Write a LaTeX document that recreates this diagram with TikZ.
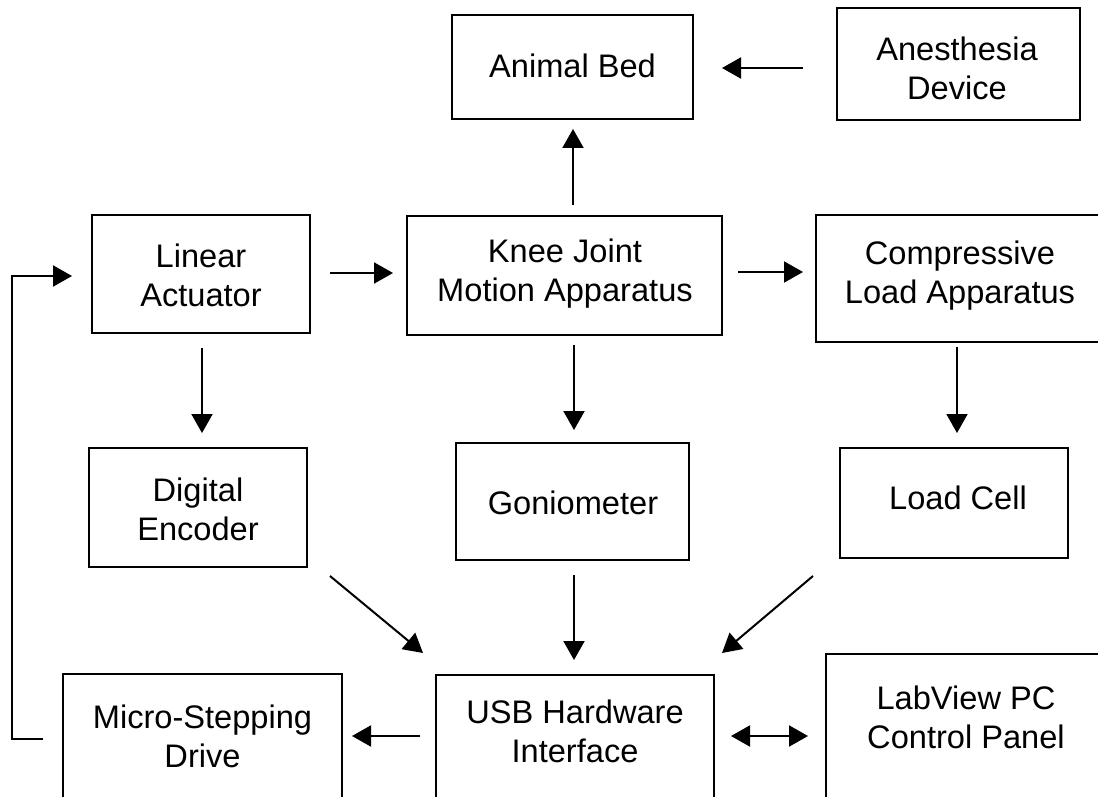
\documentclass[tikz,border=0pt]{standalone}
\usepackage{fontspec}
\setmainfont{Liberation Sans}
\usetikzlibrary{arrows.meta,calc}

\tikzset{
  box/.style={draw=black, line width=2.4pt, rectangle, inner sep=0pt, outer sep=0pt},
  txt/.style={align=center, inner sep=0pt, font=\fontsize{32.6}{39}\selectfont},
  arr/.style={draw=black, line width=2pt, -{Triangle[length=19pt,width=21pt]}},
  darr/.style={draw=black, line width=2pt, {Triangle[length=19pt,width=21pt]}-{Triangle[length=19pt,width=21pt]}},
  feed/.style={draw=black, line width=2pt, -{Triangle[length=19pt,width=21pt]}},
}

\begin{document}
\begin{tikzpicture}[x=1pt, y=-1pt]
\useasboundingbox (0,0) rectangle (1098,797);
\clip (0,0) rectangle (1098,797);
\fill[white] (0,0) rectangle (1098,797);

% boxes (frames)
\node[box, minimum width=241, minimum height=104] (anim)  at (572.5,67)  {};
\node[box, minimum width=243, minimum height=112] (anes)  at (958.5,64)  {};
\node[box, minimum width=218, minimum height=118] (lin)   at (201,274)   {};
\node[box, minimum width=315, minimum height=119] (knee)  at (564.5,275.5) {};
\node[box, minimum width=288, minimum height=127] (comp)  at (960,278.5) {};
\node[box, minimum width=218, minimum height=119] (enc)   at (198,507.5) {};
\node[box, minimum width=233, minimum height=117] (gonio) at (572.5,501.5) {};
\node[box, minimum width=228, minimum height=110] (cell)  at (954,503)   {};
\node[box, minimum width=279, minimum height=156] (micro) at (202.5,752) {};
\node[box, minimum width=278, minimum height=155] (usb)   at (575,752.5) {};
\node[box, minimum width=280, minimum height=176] (lab)   at (966,742)   {};

% labels
\node[txt] (animT)  at (572.5,66)  {Animal Bed};
\node[txt] (anesT)  at (957,68)    {Anesthesia\\Device};
\node[txt] (linT)   at (201,275)   {Linear\\Actuator};
\node[txt] (kneeT)  at (565,274)   {Knee Joint\\Motion Apparatus};
\node[txt] (compT)  at (960,276)   {Compressive\\Load Apparatus};
\node[txt] (encT)   at (198,509)   {Digital\\Encoder};
\node[txt] (gonioT) at (573,503)   {Goniometer};
\node[txt] (cellT)  at (958,498)   {Load Cell};
\node[txt] (microT) at (202.5,736) {Micro-Stepping\\Drive};
\node[txt] (usbT)   at (575,731)   {USB Hardware\\Interface};
\node[txt] (labT)   at (966,717)   {LabView PC\\Control Panel};

% connectors
\draw[arr] ($(anes.west)+(-34,4)$) -- ($(anim.east)+(29,1)$);
\draw[arr] ($(knee.north)+(8.5,-11)$) -- ($(anim.south)+(0.5,10)$);
\draw[arr] ($(lin.east)+(20,-1)$) -- ($(knee.west)+(-14,-2.5)$);
\draw[arr] ($(knee.east)+(16,-3.5)$) -- ($(comp.west)+(-13,-6.5)$);
\draw[arr] ($(lin.south)+(1,15)$) -- ($(enc.north)+(4,-15)$);
\draw[arr] ($(knee.south)+(9.5,10)$) -- ($(gonio.north)+(1.5,-13)$);
\draw[arr] ($(comp.south)+(-3,5)$) -- ($(cell.north)+(3,-15)$);
\draw[arr] ($(enc.south east)+(23,9)$) -- ($(usb.north west)+(-13,-22)$);
\draw[arr] ($(gonio.south)+(1.5,15)$) -- ($(usb.north)+(-1,-15)$);
\draw[arr] ($(cell.south west)+(-27,18)$) -- ($(usb.north east)+(8,-22)$);
\draw[arr] ($(usb.west)+(-16,-16.5)$) -- ($(micro.east)+(10,-16)$);
\draw[darr] ($(usb.east)+(17,-16.5)$) -- ($(lab.west)+(-18,-6)$);
\draw[feed] ($(micro.west)+(-20,-13)$) -- ++(-31,0) |- ($(lin.west)+(-20,2)$);
\end{tikzpicture}
\end{document}
